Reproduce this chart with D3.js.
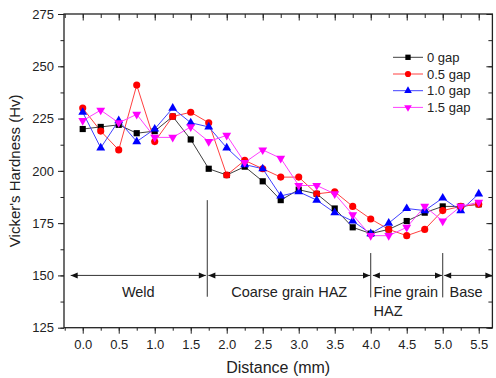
<!DOCTYPE html>
<html><head><meta charset="utf-8">
<script src="https://cdn.jsdelivr.net/npm/d3@7"></script>
<style>body{margin:0;background:#fff}svg{display:block}text{font-family:"Liberation Sans",Arial,sans-serif}</style>
</head><body>
<svg id="c" width="496" height="378"></svg>
<script>
const distance = [0,0.25,0.5,0.75,1,1.25,1.5,1.75,2,2.25,2.5,2.75,3,3.25,3.5,3.75,4,4.25,4.5,4.75,5,5.25,5.5];
const gap0  = [220,221,222,218,219,226,215,201,198,202,195,186,191,189,182,173,170,172,176,180,183,183,184];
const gap05 = [230,219,210,241,214,226,228,223,198,205,201,197,197,189,190,183,177,172,169,172,181,183,184];
const gap10 = [228,211,224,214,220,230,223,221,211,203,201,188,190,186,180,176,170,175,182,181,187,181,189];
const gap15 = [224,229,223,227,216,216,221,214,217,204,210,206,193,193,189,179,169,169,173,183,176,183,185];
const seriesNames = ["0 gap","0.5 gap","1.0 gap","1.5 gap"];
const xTicks = [0,0.5,1,1.5,2,2.5,3,3.5,4,4.5,5,5.5];
const yTicks = [125,150,175,200,225,250,275];
const zoneNames = ["Weld","Coarse grain HAZ","Fine grain|HAZ","Base"];
const zoneArrows = [[-0.167,1.71],[1.745,3.99],[4.03,4.99],[5.02,5.69]];
const zoneBounds = [[1.73,186,139.8],[4.0,160.7,139.5],[5.0,160.7,139.5]];
const zoneLineValue = 150;

const svg = d3.select("#c");
const x = d3.scaleLinear().domain([-0.26,5.69]).range([64,492.4]);
const y = d3.scaleLinear().domain([125,275]).range([327.7,14]);

const colors = ["#000000","#ff0000","#0000ff","#ff00ff"];
const lineColors = ["#404040","#ff4040","#4040ff","#ff40ff"];
const symbols = [d3.symbolSquare, d3.symbolCircle, d3.symbolTriangle, d3.symbolTriangle];
const symSizes = [38, 40, 34, 34];
const data = [gap0,gap05,gap10,gap15];

// axes
const minorX = d3.range(-0.25,5.7,0.25).filter(v=>v>=-0.26);
const minorY = d3.range(125,276,12.5);
const gAx = svg.append("g");
// bottom
gAx.append("g").attr("transform","translate(0,327.7)")
  .call(d3.axisBottom(x).tickValues(minorX).tickSize(3).tickFormat(""))
  .call(g=>g.select(".domain").remove());
gAx.append("g").attr("transform","translate(0,327.7)")
  .call(d3.axisBottom(x).tickValues(xTicks).tickSize(6).tickPadding(6).tickFormat(d3.format(".1f")))
  .call(g=>g.select(".domain").remove())
  .call(g=>g.selectAll("text").attr("font-size",13).attr("fill","#222").attr("font-family","Liberation Sans, Arial"));
// top
gAx.append("g").attr("transform","translate(0,14)")
  .call(d3.axisBottom(x).tickValues(minorX).tickSize(4).tickFormat(""))
  .call(g=>g.select(".domain").remove());
gAx.append("g").attr("transform","translate(0,14)")
  .call(d3.axisBottom(x).tickValues(xTicks).tickSize(6.5).tickFormat(""))
  .call(g=>g.select(".domain").remove());
// left
gAx.append("g").attr("transform","translate(64,0)")
  .call(d3.axisLeft(y).tickValues(minorY).tickSize(3.5).tickFormat(""))
  .call(g=>g.select(".domain").remove());
gAx.append("g").attr("transform","translate(64,0)")
  .call(d3.axisLeft(y).tickValues(yTicks).tickSize(6).tickPadding(4).tickFormat(d3.format("d")))
  .call(g=>g.select(".domain").remove())
  .call(g=>g.selectAll("text").attr("font-size",13).attr("fill","#222").attr("font-family","Liberation Sans, Arial"));
// right
gAx.append("g").attr("transform","translate(492.4,0)")
  .call(d3.axisRight(y).tickValues(minorY).tickSize(-4).tickFormat(""))
  .call(g=>g.select(".domain").remove());
gAx.append("g").attr("transform","translate(492.4,0)")
  .call(d3.axisRight(y).tickValues(yTicks).tickSize(-6).tickFormat(""))
  .call(g=>g.select(".domain").remove());
gAx.selectAll(".tick line").attr("stroke","#222");
svg.append("rect").attr("x",64).attr("y",14).attr("width",492.4-64).attr("height",327.7-14)
  .attr("fill","none").attr("stroke","#222").attr("stroke-width",1.3);

// titles
svg.append("text").attr("x",(64+492.4)/2).attr("y",373).attr("text-anchor","middle")
  .attr("font-size",16).attr("fill","#222").text("Distance (mm)");
svg.append("text").attr("transform",`translate(20,${(14+327.7)/2}) rotate(-90)`).attr("text-anchor","middle")
  .attr("font-size",15).attr("fill","#222").text("Vicker's Hardness (Hv)");

// zone annotations
const ann = svg.append("g");
ann.selectAll("line.b").data(zoneBounds).join("line")
  .attr("x1",d=>x(d[0])).attr("x2",d=>x(d[0])).attr("y1",d=>y(d[1])).attr("y2",d=>y(d[2]))
  .attr("stroke","#333").attr("stroke-width",1);
const yl = y(zoneLineValue);
ann.selectAll("line.a").data(zoneArrows).join("line")
  .attr("x1",d=>x(d[0])).attr("x2",d=>x(d[1])).attr("y1",yl).attr("y2",yl)
  .attr("stroke","#333").attr("stroke-width",1);
zoneArrows.forEach(d=>{
  const a=x(d[0]), b=x(d[1]);
  ann.append("path").attr("d",`M${a},${yl}L${a+7},${yl-3}L${a+7},${yl+3}Z`).attr("fill","#111");
  ann.append("path").attr("d",`M${b},${yl}L${b-7},${yl-3}L${b-7},${yl+3}Z`).attr("fill","#111");
});
const zoneLabelPos = [[ (zoneArrows[0][0]+zoneArrows[0][1])/2, "middle"],[(zoneArrows[1][0]+zoneArrows[1][1])/2,"middle"],[4.04,"start"],[(5.02+5.69)/2 - 0.03,"middle"]];
zoneNames.forEach((n,i)=>{
  const parts=n.split("|");
  parts.forEach((p,j)=>{
    ann.append("text").attr("x",x(zoneLabelPos[i][0])).attr("y",297+j*19).attr("text-anchor",zoneLabelPos[i][1])
      .attr("font-size",14.5).attr("fill","#222").text(p);
  });
});

// series
const lineGen = d3.line().x((d,i)=>x(distance[i])).y(d=>y(d));
data.forEach((s,k)=>{
  svg.append("path").datum(s).attr("d",lineGen).attr("fill","none").attr("stroke",lineColors[k]).attr("stroke-width",1);
});
data.forEach((s,k)=>{
  const sym = d3.symbol().type(symbols[k]).size(symSizes[k]);
  svg.append("g").selectAll("path").data(s).join("path")
    .attr("transform",(d,i)=>`translate(${x(distance[i])},${y(d)})${k===3?" rotate(180)":""}`)
    .attr("d",sym).attr("fill",colors[k]);
});

// legend
const lg = svg.append("g");
seriesNames.forEach((n,k)=>{
  const ly = 57.3 + k*16.7;
  lg.append("line").attr("x1",393).attr("x2",423).attr("y1",ly).attr("y2",ly).attr("stroke",lineColors[k]).attr("stroke-width",1);
  lg.append("path").attr("transform",`translate(408,${ly})${k===3?" rotate(180)":""}`)
    .attr("d",d3.symbol().type(symbols[k]).size(symSizes[k]*0.75)).attr("fill",colors[k]);
  lg.append("text").attr("x",427).attr("y",ly+4.5).attr("font-size",13).attr("fill","#222").text(n);
});
</script>
</body></html>
